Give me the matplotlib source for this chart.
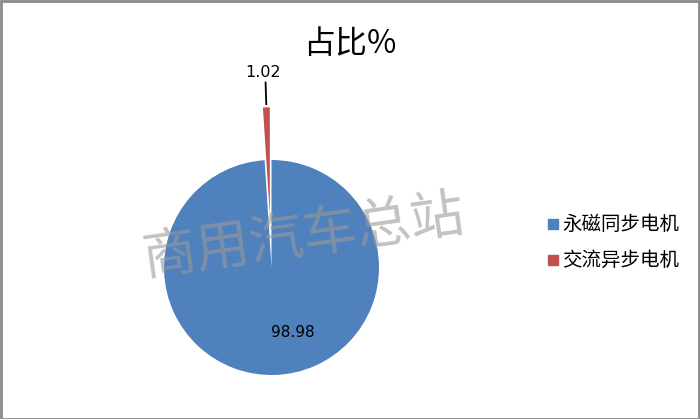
import numpy as np
import matplotlib
matplotlib.use("Agg")
import matplotlib.pyplot as plt
from matplotlib.patches import Rectangle

plt.rcParams['font.family'] = ['Noto Sans CJK SC', 'DejaVu Sans']

categories = ['永磁同步电机', '交流异步电机']
shares = [98.98, 1.02]
colors = ['#4F81BD', '#C0504D']
title = '占比%'
watermark = '商用汽车总站'

W, H = 700, 419
fig = plt.figure(figsize=(W / 100, H / 100), dpi=100)

# pie axes: centre (271.5, 267.5) px, radius 107.5 px
cx, cy, r = 271.5, 267.5, 107.5
ax = fig.add_axes([(cx - r) / W, (H - cy - r) / H, 2 * r / W, 2 * r / H])
wedges, _ = ax.pie(shares, colors=colors, startangle=90, counterclock=False,
                   explode=[0, 0.49], radius=1, frame=False,
                   wedgeprops=dict(linewidth=0))
for w in wedges:
    w.set_clip_on(False)
ax.set_xlim(-1, 1)
ax.set_ylim(-1, 1)
ax.set_aspect('auto')
ax.axis('off')

# small slice label with leader line
w = wedges[1]
mid = np.deg2rad((w.theta1 + w.theta2) / 2)
ax.plot([1.52 * np.cos(mid), 1.72 * np.cos(mid)], [1.52, 1.72], color='black',
        lw=1.3, clip_on=False)
ax.text(-0.08, 1.81, f'{shares[1]:.2f}', ha='center', va='center', fontsize=11.5,
        family=['DejaVu Sans'])
ax.text(0.2, -0.6, f'{shares[0]:.2f}', ha='center', va='center', fontsize=11,
        family=['DejaVu Sans'])

fig.text(350 / W, 1 - 44 / H, title, ha='center', va='center', fontsize=23)

# legend
for i, (lab, col) in enumerate(zip(categories, colors)):
    y = 224 + i * 36
    fig.patches.append(Rectangle((548 / W, 1 - (y + 5) / H), 10 / W, 10 / H,
                                 transform=fig.transFigure, color=col))
    fig.text(562 / W, 1 - y / H, lab, ha='left', va='center', fontsize=14)

# watermark
fig.text(304 / W, 1 - 236 / H, watermark, ha='center', va='center', fontsize=39,
         color='#9a9a9a', alpha=0.6, rotation=8)

fig.patches.append(Rectangle((0.5 / W, 0.5 / H), 1 - 2 / W, 1 - 2 / H,
                             transform=fig.transFigure, fill=False,
                             edgecolor='#8a8a8a', lw=2))

fig.savefig('out.png', dpi=100)
